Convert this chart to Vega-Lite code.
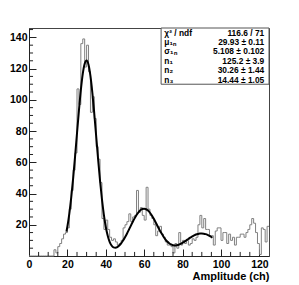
{
  "$schema": "https://vega.github.io/schema/vega-lite/v6.json",
  "width": 240,
  "height": 228,
  "autosize": "none",
  "padding": {"left": 29, "top": 28, "right": 30, "bottom": 29},
  "background": "white",
  "view": {"stroke": "#444", "strokeWidth": 1},
  "config": {
    "font": "Liberation Sans",
    "axis": {
      "domainColor": "#222",
      "tickColor": "#222",
      "grid": false,
      "labelFont": "Liberation Sans",
      "labelFontWeight": "bold",
      "labelFontSize": 10.5,
      "labelColor": "#000",
      "labelOverlap": false,
      "titleFont": "Liberation Sans",
      "titleFontWeight": "bold",
      "titleFontSize": 11,
      "titleColor": "#000"
    }
  },
  "datasets": {
    "hist": [
      {"x":0,"n":0},{"x":1,"n":0},{"x":2,"n":0},{"x":3,"n":0},{"x":4,"n":0},{"x":5,"n":0},{"x":6,"n":0},{"x":7,"n":0},{"x":8,"n":0},{"x":9,"n":0},{"x":10,"n":0},{"x":11,"n":0},{"x":12,"n":0},
      {"x":13,"n":4},{"x":14,"n":2},{"x":15,"n":6},{"x":16,"n":8},{"x":17,"n":11},{"x":18,"n":14},{"x":19,"n":15},{"x":20,"n":18},{"x":21,"n":30},{"x":22,"n":42},{"x":23,"n":55},{"x":24,"n":66},
      {"x":25,"n":107},{"x":26,"n":97},{"x":27,"n":136},{"x":28,"n":139},{"x":29,"n":121},{"x":30,"n":135},{"x":31,"n":118},{"x":32,"n":92},{"x":33,"n":102},{"x":34,"n":88},
      {"x":35,"n":70},{"x":36,"n":62},{"x":37,"n":47},{"x":38,"n":24},{"x":39,"n":17},{"x":40,"n":23},{"x":41,"n":17},{"x":42,"n":12},{"x":43,"n":10},{"x":44,"n":11},
      {"x":45,"n":9},{"x":46,"n":7},{"x":47,"n":8},{"x":48,"n":10},{"x":49,"n":18},{"x":50,"n":20},{"x":51,"n":22},{"x":52,"n":27},{"x":53,"n":22},{"x":54,"n":25},
      {"x":55,"n":26},{"x":56,"n":42},{"x":57,"n":28},{"x":58,"n":31},{"x":59,"n":26},{"x":60,"n":23},{"x":61,"n":44},{"x":62,"n":30},{"x":63,"n":26},{"x":64,"n":24},
      {"x":65,"n":20},{"x":66,"n":13},{"x":67,"n":16},{"x":68,"n":19},{"x":69,"n":14},{"x":70,"n":12},{"x":71,"n":9},{"x":72,"n":7},{"x":73,"n":7},{"x":74,"n":6},
      {"x":75,"n":2},{"x":76,"n":8},{"x":77,"n":5},{"x":78,"n":15},{"x":79,"n":7},{"x":80,"n":10},{"x":81,"n":8},{"x":82,"n":10},{"x":83,"n":7},{"x":84,"n":8},
      {"x":85,"n":11},{"x":86,"n":10},{"x":87,"n":12},{"x":88,"n":20},{"x":89,"n":26},{"x":90,"n":18},{"x":91,"n":24},{"x":92,"n":17},{"x":93,"n":17},{"x":94,"n":13},
      {"x":95,"n":13},{"x":96,"n":7},{"x":97,"n":16},{"x":98,"n":18},{"x":99,"n":18},{"x":100,"n":10},{"x":101,"n":15},{"x":102,"n":15},{"x":103,"n":8},{"x":104,"n":14},
      {"x":105,"n":10},{"x":106,"n":12},{"x":107,"n":7},{"x":108,"n":12},{"x":109,"n":12},{"x":110,"n":14},{"x":111,"n":14},{"x":112,"n":12},{"x":113,"n":15},{"x":114,"n":17},
      {"x":115,"n":20},{"x":116,"n":24},{"x":117,"n":21},{"x":118,"n":15},{"x":119,"n":8},{"x":120,"n":1},{"x":121,"n":18},{"x":122,"n":17},{"x":123,"n":9},{"x":124,"n":19},
      {"x":125,"n":19}
    ],
    "fit": [
      {"x":19.5,"n":15.6},{"x":20,"n":18.9},{"x":21,"n":27.2},{"x":22,"n":37.5},{"x":23,"n":49.9},{"x":24,"n":63.8},{"x":25,"n":78.6},{"x":26,"n":93.1},{"x":27,"n":106.2},{"x":28,"n":116.6},
      {"x":29,"n":123.1},{"x":30,"n":125.2},{"x":31,"n":122.5},{"x":32,"n":115.3},{"x":33,"n":104.5},{"x":34,"n":91.1},{"x":35,"n":76.5},{"x":36,"n":61.9},{"x":37,"n":48.2},{"x":38,"n":36.2},
      {"x":39,"n":26.4},{"x":40,"n":18.6},{"x":41,"n":13.0},{"x":42,"n":9.1},{"x":43,"n":6.7},{"x":44,"n":5.5},{"x":45,"n":5.3},{"x":46,"n":5.7},{"x":47,"n":6.7},{"x":48,"n":8.1},
      {"x":49,"n":9.9},{"x":50,"n":12.0},{"x":51,"n":14.3},{"x":52,"n":16.7},{"x":53,"n":19.3},{"x":54,"n":21.8},{"x":55,"n":24.1},{"x":56,"n":26.2},{"x":57,"n":28.0},{"x":58,"n":29.3},
      {"x":59,"n":30.1},{"x":60,"n":30.3},{"x":61,"n":29.95},{"x":62,"n":29.1},{"x":63,"n":27.7},{"x":64,"n":25.9},{"x":65,"n":23.8},{"x":66,"n":21.5},{"x":67,"n":19.1},{"x":68,"n":16.7},
      {"x":69,"n":14.5},{"x":70,"n":12.5},{"x":71,"n":10.7},{"x":72,"n":9.3},{"x":73,"n":8.2},{"x":74,"n":7.4},{"x":75,"n":6.9},{"x":76,"n":6.8},{"x":77,"n":6.9},{"x":78,"n":7.2},
      {"x":79,"n":7.8},{"x":80,"n":8.5},{"x":81,"n":9.2},{"x":82,"n":10.1},{"x":83,"n":10.9},{"x":84,"n":11.8},{"x":85,"n":12.5},{"x":86,"n":13.2},{"x":87,"n":13.8},{"x":88,"n":14.15},
      {"x":89,"n":14.38},{"x":90,"n":14.44},{"x":91,"n":14.31},{"x":92,"n":14.0},{"x":93,"n":13.52},{"x":94,"n":12.9},{"x":95,"n":12.14},{"x":95.5,"n":11.7}
    ],
    "xminor": [{"x":5},{"x":10},{"x":15},{"x":25},{"x":30},{"x":35},{"x":45},{"x":50},{"x":55},{"x":65},{"x":70},{"x":75},{"x":85},{"x":90},{"x":95},{"x":105},{"x":110},{"x":115}],
    "yminor": [{"n":5},{"n":10},{"n":15},{"n":25},{"n":30},{"n":35},{"n":45},{"n":50},{"n":55},{"n":65},{"n":70},{"n":75},{"n":85},{"n":90},{"n":95},{"n":105},{"n":110},{"n":115},{"n":125},{"n":130},{"n":135},{"n":145}],
    "box": [{"x":68.8,"x2":125,"n":110,"n2":146}],
    "stats": [
      {"label":"χ² / ndf","value":"116.6 / 71","n":143},
      {"label":"μ₁ₙ","value":"29.93 ± 0.11","n":137},
      {"label":"σ₁ₙ","value":"5.108 ± 0.102","n":131},
      {"label":"n₁","value":"125.2 ± 3.9","n":125},
      {"label":"n₂","value":"30.26 ± 1.44","n":119},
      {"label":"n₃","value":"14.44 ± 1.05","n":113}
    ]
  },
  "layer": [
    {
      "data": {"name": "hist"},
      "mark": {"type": "line", "interpolate": "step-after", "color": "#808080", "strokeWidth": 1},
      "encoding": {
        "x": {"field": "x", "type": "quantitative", "scale": {"domain": [0, 125], "nice": false, "zero": false},
              "axis": {"title": "Amplitude (ch)", "titleAnchor": "end", "titlePadding": 1, "values": [0,20,40,60,80,100,120], "labelOverlap": false, "labelFlush": false, "tickSize": -7, "labelPadding": 10}},
        "y": {"field": "n", "type": "quantitative", "scale": {"domain": [0, 146], "nice": false, "zero": true},
              "axis": {"title": null, "values": [20,40,60,80,100,120,140], "labelOverlap": false, "labelFlush": false, "tickSize": -7, "labelPadding": 9}}
      }
    },
    {
      "data": {"name": "xminor"},
      "mark": {"type": "rule", "color": "#222", "strokeWidth": 1},
      "encoding": {
        "x": {"field": "x", "type": "quantitative",
              "axis": {"title": "Amplitude (ch)", "titleAnchor": "end", "titlePadding": 1, "values": [0,20,40,60,80,100,120], "labelOverlap": false, "labelFlush": false, "tickSize": -7, "labelPadding": 10}},
        "y": {"datum": 0, "type": "quantitative",
              "axis": {"title": null, "values": [20,40,60,80,100,120,140], "labelOverlap": false, "labelFlush": false, "tickSize": -7, "labelPadding": 9}},
        "y2": {"datum": 2.6}
      }
    },
    {
      "data": {"name": "yminor"},
      "mark": {"type": "rule", "color": "#222", "strokeWidth": 1},
      "encoding": {
        "y": {"field": "n", "type": "quantitative",
              "axis": {"title": null, "values": [20,40,60,80,100,120,140], "labelOverlap": false, "labelFlush": false, "tickSize": -7, "labelPadding": 9}},
        "x": {"datum": 0, "type": "quantitative",
              "axis": {"title": "Amplitude (ch)", "titleAnchor": "end", "titlePadding": 1, "values": [0,20,40,60,80,100,120], "labelOverlap": false, "labelFlush": false, "tickSize": -7, "labelPadding": 10}},
        "x2": {"datum": 2.1}
      }
    },
    {
      "data": {"name": "fit"},
      "mark": {"type": "line", "interpolate": "monotone", "color": "#000", "strokeWidth": 2},
      "encoding": {
        "x": {"field": "x", "type": "quantitative",
              "axis": {"title": "Amplitude (ch)", "titleAnchor": "end", "titlePadding": 1, "values": [0,20,40,60,80,100,120], "labelOverlap": false, "labelFlush": false, "tickSize": -7, "labelPadding": 10}},
        "y": {"field": "n", "type": "quantitative",
              "axis": {"title": null, "values": [20,40,60,80,100,120,140], "labelOverlap": false, "labelFlush": false, "tickSize": -7, "labelPadding": 9}}
      }
    },
    {
      "data": {"name": "box"},
      "mark": {"type": "rect", "fill": "white", "stroke": "#555", "strokeWidth": 1},
      "encoding": {
        "x": {"field": "x", "type": "quantitative",
              "axis": {"title": "Amplitude (ch)", "titleAnchor": "end", "titlePadding": 1, "values": [0,20,40,60,80,100,120], "labelOverlap": false, "labelFlush": false, "tickSize": -7, "labelPadding": 10}},
        "x2": {"field": "x2"},
        "y": {"field": "n", "type": "quantitative",
              "axis": {"title": null, "values": [20,40,60,80,100,120,140], "labelOverlap": false, "labelFlush": false, "tickSize": -7, "labelPadding": 9}},
        "y2": {"field": "n2"}
      }
    },
    {
      "data": {"name": "stats"},
      "mark": {"type": "text", "align": "left", "baseline": "middle", "font": "Liberation Sans", "fontWeight": "bold", "fontSize": 8.4, "color": "#000"},
      "encoding": {
        "x": {"datum": 70.5, "type": "quantitative",
              "axis": {"title": "Amplitude (ch)", "titleAnchor": "end", "titlePadding": 1, "values": [0,20,40,60,80,100,120], "labelOverlap": false, "labelFlush": false, "tickSize": -7, "labelPadding": 10}},
        "y": {"field": "n", "type": "quantitative",
              "axis": {"title": null, "values": [20,40,60,80,100,120,140], "labelOverlap": false, "labelFlush": false, "tickSize": -7, "labelPadding": 9}},
        "text": {"field": "label"}
      }
    },
    {
      "data": {"name": "stats"},
      "mark": {"type": "text", "align": "right", "baseline": "middle", "font": "Liberation Sans", "fontWeight": "bold", "fontSize": 8.4, "color": "#000"},
      "encoding": {
        "x": {"datum": 122.5, "type": "quantitative",
              "axis": {"title": "Amplitude (ch)", "titleAnchor": "end", "titlePadding": 1, "values": [0,20,40,60,80,100,120], "labelOverlap": false, "labelFlush": false, "tickSize": -7, "labelPadding": 10}},
        "y": {"field": "n", "type": "quantitative",
              "axis": {"title": null, "values": [20,40,60,80,100,120,140], "labelOverlap": false, "labelFlush": false, "tickSize": -7, "labelPadding": 9}},
        "text": {"field": "value"}
      }
    }
  ]
}
